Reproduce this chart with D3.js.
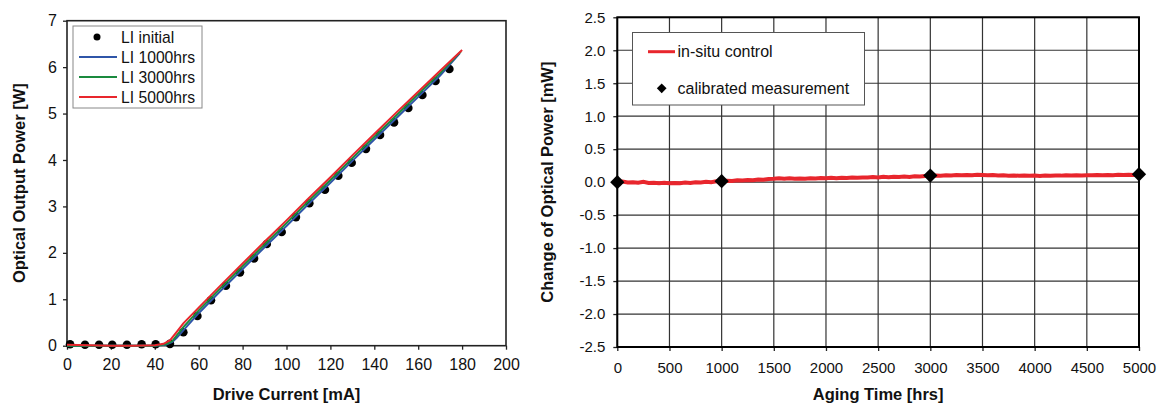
<!DOCTYPE html>
<html>
<head>
<meta charset="utf-8">
<script src="https://cdn.jsdelivr.net/npm/d3@7"></script>
<style>
  body { margin: 0; background: #fff; }
  text { font-family: "Liberation Sans", Arial, sans-serif; fill: #111; }
</style>
</head>
<body>
<script>
const w = 1162
const h = 405

// left chart: LI curves
const liInitialI = [1.4, 8.2, 14.6, 20.6, 27.3, 34, 40.4, 46.9, 53, 59.4, 65.6, 72.4, 78.8, 85.2, 91, 97.8, 104.3, 110.4,
  117.5, 123.6, 129.7, 136.2, 142.6, 149, 155.5, 161.9, 167.9, 174.2]
const liInitialP = [0.03, 0.02, 0.02, 0.02, 0.02, 0.03, 0.03, 0.04, 0.29, 0.64, 0.98, 1.29, 1.58, 1.88, 2.19, 2.45, 2.77, 3.07,
  3.36, 3.66, 3.94, 4.24, 4.54, 4.81, 5.12, 5.40, 5.70, 5.96]
const li1000I = [0, 40, 45, 48, 50, 53, 60, 70, 80, 90, 100, 110, 120, 130, 140, 150, 160, 170, 179]
const li1000P = [0, 0, 0.02, 0.08, 0.17, 0.33, 0.7, 1.18, 1.65, 2.12, 2.58, 3.05, 3.51, 3.98, 4.44, 4.9, 5.36, 5.82, 6.3]
const li3000I = [0, 40, 45, 48, 50, 53, 60, 70, 80, 90, 100, 110, 120, 130, 140, 150, 160, 170, 179.5]
const li3000P = [0, 0, 0.03, 0.1, 0.22, 0.4, 0.76, 1.24, 1.71, 2.18, 2.64, 3.11, 3.57, 4.04, 4.5, 4.96, 5.42, 5.87, 6.34]
const li5000I = [0, 10, 20, 30, 40, 44, 47, 50, 53, 60, 70, 80, 90, 100, 110, 120, 130, 140, 150, 160, 170, 180]
const li5000P = [0.02, 0.01, 0, 0, 0.01, 0.04, 0.12, 0.3, 0.48, 0.82, 1.3, 1.77, 2.24, 2.7, 3.17, 3.63, 4.1, 4.56, 5.02, 5.47, 5.92, 6.37]
const xTicksL = [0, 20, 40, 60, 80, 100, 120, 140, 160, 180, 200]
const yTicksL = [0, 1, 2, 3, 4, 5, 6, 7]

// right chart: aging
const agingHours = d3.range(0, 5001, 50)
const insituPower = [0.00, 0.01, -0.005, 0.000, -0.01, 0.005, -0.012, -0.008, -0.015, -0.01,
  -0.018, -0.012, -0.015, -0.005, -0.012, 0.0, -0.005, 0.005, 0.0, 0.012,
  0.015, 0.02, 0.018, 0.028, 0.025, 0.032, 0.03, 0.04, 0.035, 0.048,
  0.05, 0.06, 0.052, 0.058, 0.05, 0.056, 0.052, 0.06, 0.055, 0.062,
  0.058, 0.065, 0.06, 0.068, 0.062, 0.07, 0.066, 0.072, 0.07, 0.078,
  0.072, 0.08, 0.076, 0.082, 0.078, 0.086, 0.08, 0.088, 0.085, 0.092,
  0.095, 0.1, 0.098, 0.105, 0.1, 0.108, 0.104, 0.11, 0.106, 0.112,
  0.11, 0.105, 0.108, 0.1, 0.104, 0.098, 0.102, 0.097, 0.1, 0.096,
  0.099, 0.095, 0.1, 0.097, 0.102, 0.099, 0.104, 0.1, 0.106, 0.102,
  0.105, 0.103, 0.108, 0.104, 0.11, 0.106, 0.112, 0.108, 0.114, 0.11, 0.115]
const calibHours = [0, 1000, 3000, 5000]
const calibPower = [0.0, 0.015, 0.1, 0.12]
const xTicksR = [0, 500, 1000, 1500, 2000, 2500, 3000, 3500, 4000, 4500, 5000]
const yTicksR = [-2.5, -2.0, -1.5, -1.0, -0.5, 0.0, 0.5, 1.0, 1.5, 2.0, 2.5]

const svg = d3.select('body').append('svg').attr('width', w).attr('height', h)

// ---------- left chart ----------
const xL = d3.scaleLinear().domain([0, 200]).range([67, 506])
const yL = d3.scaleLinear().domain([0, 7]).range([345.7, 20.7])

const gxL = svg.append('g').attr('transform', 'translate(0,' + yL(0) + ')')
gxL.call(d3.axisBottom(xL).tickValues(d3.range(10, 200, 20)).tickSize(3).tickFormat(''))
gxL.call(d3.axisBottom(xL).tickValues(xTicksL).tickSize(4).tickSizeOuter(0).tickPadding(9).tickFormat(d3.format('d')))
const gyL = svg.append('g').attr('transform', 'translate(' + xL(0) + ',0)')
gyL.call(d3.axisLeft(yL).tickValues(d3.range(0.5, 7, 1)).tickSize(3).tickFormat(''))
gyL.call(d3.axisLeft(yL).tickValues(yTicksL).tickSize(4).tickSizeOuter(0).tickPadding(6).tickFormat(d3.format('d')))
svg.selectAll('.domain').remove()
gxL.selectAll('text').style('font-size', '16px')
gyL.selectAll('text').style('font-size', '16px')
svg.selectAll('.tick line').attr('stroke', '#222').attr('stroke-width', 1.3)

svg.append('rect').attr('x', xL(0)).attr('y', yL(7)).attr('width', xL(200) - xL(0)).attr('height', yL(0) - yL(7))
  .attr('fill', 'none').attr('stroke', '#222').attr('stroke-width', 1.6)

const lineL = d3.line().x(d => xL(d[0])).y(d => yL(d[1]))
svg.append('g').selectAll('circle').data(d3.zip(liInitialI, liInitialP)).enter().append('circle')
  .attr('cx', d => xL(d[0])).attr('cy', d => yL(d[1])).attr('r', 4.3).attr('fill', '#000')
const liSeries = [
  { i: li1000I, p: li1000P, c: '#2f55a8' },
  { i: li3000I, p: li3000P, c: '#1a8a3e' },
  { i: li5000I, p: li5000P, c: '#e8262d' }
]
liSeries.forEach(s => {
  svg.append('path').datum(d3.zip(s.i, s.p)).attr('d', lineL)
    .attr('fill', 'none').attr('stroke', s.c).attr('stroke-width', 2)
})

// legend left
const legL = svg.append('g')
legL.append('rect').attr('x', 73).attr('y', 26).attr('width', 129).attr('height', 82)
  .attr('fill', '#fff').attr('stroke', '#888').attr('stroke-width', 1)
const legLItems = ['LI initial', 'LI 1000hrs', 'LI 3000hrs', 'LI 5000hrs']
legLItems.forEach((t, i) => {
  const y = 37 + i * 20
  if (i === 0) legL.append('circle').attr('cx', 97).attr('cy', y).attr('r', 3.5).attr('fill', '#000')
  else legL.append('line').attr('x1', 79).attr('x2', 117).attr('y1', y).attr('y2', y)
    .attr('stroke', liSeries[i - 1].c).attr('stroke-width', 2)
  legL.append('text').attr('x', 121).attr('y', y + 5.5).style('font-size', '15.7px').text(t)
})

svg.append('text').attr('x', (xL(0) + xL(200)) / 2).attr('y', 400).attr('text-anchor', 'middle')
  .style('font-size', '16.5px').style('font-weight', 'bold').text('Drive Current [mA]')
svg.append('text').attr('transform', 'translate(25,' + (yL(3.5)) + ') rotate(-90)').attr('text-anchor', 'middle')
  .style('font-size', '16.5px').style('font-weight', 'bold').text('Optical Output Power [W]')

// ---------- right chart ----------
const xR = d3.scaleLinear().domain([0, 5000]).range([617.3, 1139])
const yR = d3.scaleLinear().domain([-2.5, 2.5]).range([347, 17.3])

const grid = svg.append('g')
grid.selectAll('line.v').data(xTicksR).enter().append('line')
  .attr('x1', d => xR(d)).attr('x2', d => xR(d)).attr('y1', yR(2.5)).attr('y2', yR(-2.5))
  .attr('stroke', '#333').attr('stroke-width', 1.2)
grid.selectAll('line.h').data(yTicksR).enter().append('line')
  .attr('x1', xR(0)).attr('x2', xR(5000)).attr('y1', d => yR(d)).attr('y2', d => yR(d))
  .attr('stroke', '#333').attr('stroke-width', 1.2)

const gxR = svg.append('g').attr('transform', 'translate(0,' + yR(-2.5) + ')')
  .call(d3.axisBottom(xR).tickValues(xTicksR).tickSize(4).tickSizeOuter(0).tickPadding(11).tickFormat(d3.format('d')))
const gyR = svg.append('g').attr('transform', 'translate(' + xR(0) + ',0)')
  .call(d3.axisLeft(yR).tickValues(yTicksR).tickSize(4).tickSizeOuter(0).tickPadding(8).tickFormat(d => d.toFixed(1)))
gxR.select('.domain').remove()
gyR.select('.domain').remove()
gxR.selectAll('text').style('font-size', '15px')
gyR.selectAll('text').style('font-size', '15px')
gxR.selectAll('.tick line').attr('stroke', '#222').attr('stroke-width', 1.3)
gyR.selectAll('.tick line').attr('stroke', '#222').attr('stroke-width', 1.3)

svg.append('rect').attr('x', xR(0)).attr('y', yR(2.5)).attr('width', xR(5000) - xR(0)).attr('height', yR(-2.5) - yR(2.5))
  .attr('fill', 'none').attr('stroke', '#000').attr('stroke-width', 2)

// legend right
const legR = svg.append('g')
legR.append('rect').attr('x', 632.5).attr('y', 32.5).attr('width', 232).attr('height', 72.5)
  .attr('fill', '#fff').attr('stroke', '#555').attr('stroke-width', 1)
legR.append('line').attr('x1', 648).attr('x2', 675).attr('y1', 51.7).attr('y2', 51.7)
  .attr('stroke', '#e8262d').attr('stroke-width', 3)
legR.append('text').attr('x', 677.5).attr('y', 57).style('font-size', '16px').text('in-situ control')
legR.append('path').attr('d', d3.symbol(d3.symbolDiamond2, 60)).attr('transform', 'translate(661.7,88.3)').attr('fill', '#000')
legR.append('text').attr('x', 677.5).attr('y', 93.5).style('font-size', '16px').text('calibrated measurement')

const lineR = d3.line().x(d => xR(d[0])).y(d => yR(d[1]))
svg.append('path').datum(d3.zip(agingHours, insituPower)).attr('d', lineR)
  .attr('fill', 'none').attr('stroke', '#e8262d').attr('stroke-width', 4)
svg.append('g').selectAll('path').data(d3.zip(calibHours, calibPower)).enter().append('path')
  .attr('d', d3.symbol(d3.symbolDiamond2, 130))
  .attr('transform', d => 'translate(' + xR(d[0]) + ',' + yR(d[1]) + ')').attr('fill', '#000')

svg.append('text').attr('x', (xR(0) + xR(5000)) / 2).attr('y', 400).attr('text-anchor', 'middle')
  .style('font-size', '16.5px').style('font-weight', 'bold').text('Aging Time [hrs]')
svg.append('text').attr('transform', 'translate(553,' + yR(0) + ') rotate(-90)').attr('text-anchor', 'middle')
  .style('font-size', '16.5px').style('font-weight', 'bold').text('Change of Optical Power [mW]')
</script>
</body>
</html>
